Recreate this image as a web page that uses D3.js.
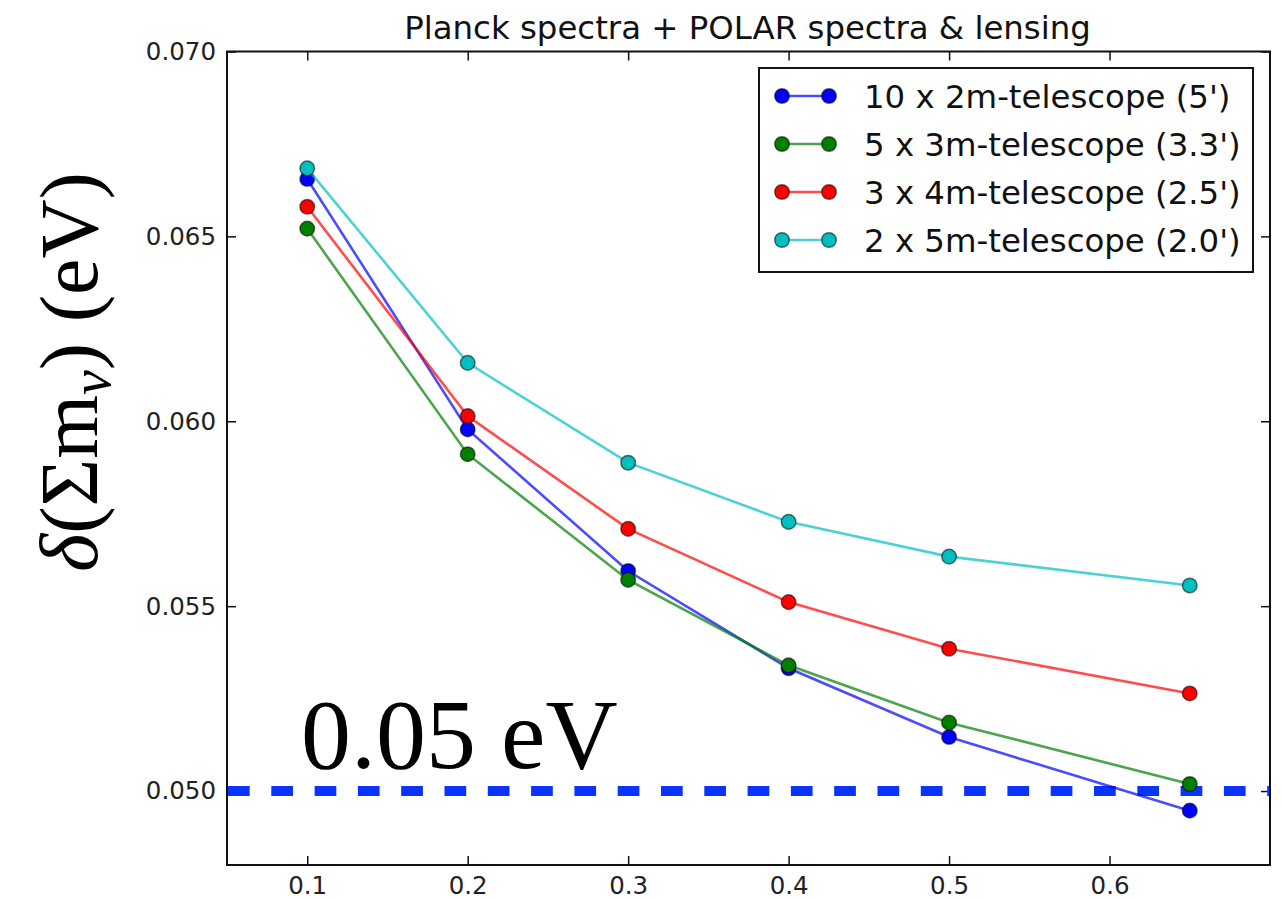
<!DOCTYPE html>
<html><head><meta charset="utf-8">
<script src="https://cdn.jsdelivr.net/npm/d3@7"></script>
<style>body{margin:0;background:#fff}</style>
</head><body>
<svg id="chart" width="1282" height="899"></svg>
<script>
// ---- data ----
const xValues = [0.1, 0.2, 0.3, 0.4, 0.5, 0.65];
const seriesNames = ["10 x 2m-telescope (5')", "5 x 3m-telescope (3.3')", "3 x 4m-telescope (2.5')", "2 x 5m-telescope (2.0')"];
const seriesColors = ["#0000ff", "#007f00", "#ff0000", "#00bfbf"];
const blueValues  = [0.06655, 0.05978, 0.05595, 0.05332, 0.05146, 0.04947];
const greenValues = [0.06521, 0.05911, 0.05571, 0.05340, 0.05185, 0.05019];
const redValues   = [0.06580, 0.06014, 0.05709, 0.05511, 0.05385, 0.05264];
const cyanValues  = [0.06684, 0.06158, 0.05888, 0.05728, 0.05634, 0.05556];
const seriesValues = [blueValues, greenValues, redValues, cyanValues];
const xTicks = [0.1, 0.2, 0.3, 0.4, 0.5, 0.6];
const xTickLabels = ["0.1", "0.2", "0.3", "0.4", "0.5", "0.6"];
const yTicks = [0.050, 0.055, 0.060, 0.065, 0.070];
const yTickLabels = ["0.050", "0.055", "0.060", "0.065", "0.070"];
const refValue = 0.05;
const titleText = "Planck spectra + POLAR spectra & lensing";
const refLabel = "0.05 eV";

// ---- layout ----
const svg = d3.select("#chart");
const L = 227, R = 1270, T = 51.5, B = 865;
const x = d3.scaleLinear().domain([0.05, 0.7]).range([L, R]);
const y = d3.scaleLinear().domain([0.048, 0.070]).range([B, T]);
const tickFont = "DejaVu Sans, sans-serif";

// frame
svg.append("rect").attr("x", L).attr("y", T).attr("width", R - L).attr("height", B - T)
  .attr("fill", "none").attr("stroke", "#111").attr("stroke-width", 2);

// axes
function styleAxis(g) {
  g.select(".domain").remove();
  g.selectAll(".tick line").attr("stroke", "#111").attr("stroke-width", 1.5);
  g.selectAll(".tick text").attr("fill", "#222").style("font-family", tickFont).style("font-size", "24.5px");
}
svg.append("g").attr("transform", `translate(0,${B})`)
  .call(d3.axisBottom(x).tickValues(xTicks).tickFormat((d, i) => xTickLabels[i]).tickSize(-9).tickPadding(12))
  .call(styleAxis);
svg.append("g").attr("transform", `translate(0,${T})`)
  .call(d3.axisTop(x).tickValues(xTicks).tickFormat("").tickSize(-9))
  .call(styleAxis);
svg.append("g").attr("transform", `translate(${L},0)`)
  .call(d3.axisLeft(y).tickValues(yTicks).tickFormat((d, i) => yTickLabels[i]).tickSize(-9).tickPadding(11))
  .call(styleAxis);
svg.append("g").attr("transform", `translate(${R},0)`)
  .call(d3.axisRight(y).tickValues(yTicks).tickFormat("").tickSize(-9))
  .call(styleAxis);

// reference dashed line
svg.append("line").attr("x1", L + 1).attr("x2", R - 1).attr("y1", y(refValue)).attr("y2", y(refValue))
  .attr("stroke", "#0a33ff").attr("stroke-width", 10).attr("stroke-dasharray", "21.7,21.6");

// series
const line = d3.line().x((d, i) => x(xValues[i])).y(d => y(d));
seriesValues.forEach((vals, s) => {
  const g = svg.append("g");
  g.append("path").datum(vals).attr("d", line).attr("fill", "none")
    .attr("stroke", seriesColors[s]).attr("stroke-opacity", 0.7).attr("stroke-width", 2.6);
  g.selectAll("circle").data(vals).join("circle")
    .attr("cx", (d, i) => x(xValues[i])).attr("cy", d => y(d)).attr("r", 7.3)
    .attr("fill", seriesColors[s]).attr("stroke", "#000").attr("stroke-opacity", 0.55).attr("stroke-width", 1.5);
});

// title
svg.append("text").attr("x", (L + R) / 2 - 1).attr("y", 39).attr("text-anchor", "middle")
  .style("font-family", tickFont).style("font-size", "32.4px").attr("fill", "#111").text(titleText);

// reference label
svg.append("text").attr("x", 301).attr("y", 768)
  .style("font-family", "Liberation Serif, serif").style("font-size", "100px").attr("fill", "#000").text(refLabel);

// y label
const yl = svg.append("text").attr("transform", "translate(97,372) rotate(-90)").attr("text-anchor", "middle")
  .style("font-family", "Liberation Serif, serif").style("font-size", "82px").attr("fill", "#000");
yl.append("tspan").style("font-style", "italic").text("δ");
yl.append("tspan").text("(Σm");
yl.append("tspan").style("font-style", "italic").style("font-size", "56px").attr("dy", 13).text("ν");
yl.append("tspan").attr("dy", -13).text(") (eV)");

// legend
const lg = svg.append("g");
lg.append("rect").attr("x", 759).attr("y", 68).attr("width", 494).attr("height", 204)
  .attr("fill", "#fff").attr("stroke", "#111").attr("stroke-width", 2);
seriesNames.forEach((name, s) => {
  const cy = 96 + s * 48;
  lg.append("line").attr("x1", 782).attr("x2", 829).attr("y1", cy).attr("y2", cy)
    .attr("stroke", seriesColors[s]).attr("stroke-opacity", 0.7).attr("stroke-width", 2.6);
  [782, 829].forEach(cx => lg.append("circle").attr("cx", cx).attr("cy", cy).attr("r", 7.3)
    .attr("fill", seriesColors[s]).attr("stroke", "#000").attr("stroke-opacity", 0.55).attr("stroke-width", 1.5));
  lg.append("text").attr("x", 864).attr("y", cy + 11.5)
    .style("font-family", tickFont).style("font-size", "32.4px").attr("fill", "#111").text(name);
});
</script>
</body></html>
